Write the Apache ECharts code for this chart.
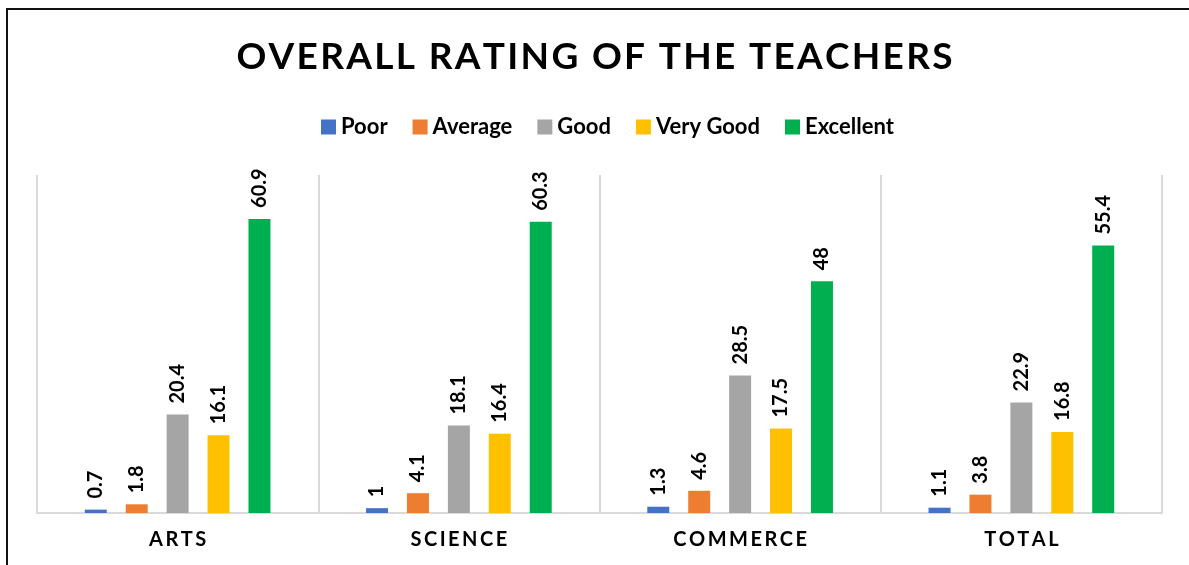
<!DOCTYPE html>
<html>
<head>
<meta charset="utf-8">
<script src="https://cdn.jsdelivr.net/npm/echarts@6/dist/echarts.min.js"></script>
<style>
  html, body { margin: 0; padding: 0; background: #fff; }
  #main { width: 1189px; height: 565px; }
</style>
</head>
<body>
<div id="main"></div>
<script>
// data
const categories = ['ARTS', 'SCIENCE', 'COMMERCE', 'TOTAL'];
const poor = [0.7, 1, 1.3, 1.1];
const average = [1.8, 4.1, 4.6, 3.8];
const good = [20.4, 18.1, 28.5, 22.9];
const veryGood = [16.1, 16.4, 17.5, 16.8];
const excellent = [60.9, 60.3, 48, 55.4];

const seriesNames = ['Poor', 'Average', 'Good', 'Very Good', 'Excellent'];
const seriesData = [poor, average, good, veryGood, excellent];
const colors = ['#4472C4', '#ED7D31', '#A5A5A5', '#FFC000', '#00B050'];

const FONT = 'Lato, "Open Sans", sans-serif';

// spread letters out a bit (echarts has no letterSpacing)
function spaced(s, sep) {
  return s.split('').join(sep);
}

const chart = echarts.init(document.getElementById('main'));

const series = seriesNames.map(function (name, i) {
  return {
    name: name,
    type: 'bar',
    data: seriesData[i],
    barWidth: 22,
    barGap: '86%',
    itemStyle: { color: colors[i] },
    label: {
      show: true,
      position: 'top',
      rotate: 90,
      align: 'left',
      verticalAlign: 'middle',
      distance: 11,
      fontFamily: FONT,
      fontWeight: 'bold',
      fontSize: 20,
      color: '#000'
    }
  };
});

chart.setOption({
  animation: false,
  title: {
    text: spaced('OVERALL RATING OF THE TEACHERS', '\u200A'),
    left: 'center',
    top: 34,
    textStyle: {
      fontFamily: FONT,
      fontWeight: 'bold',
      fontSize: 37,
      color: '#000'
    }
  },
  legend: {
    top: 111,
    left: 316,
    itemWidth: 15,
    itemHeight: 15,
    itemGap: 25,
    icon: 'rect',
    textStyle: {
      fontFamily: FONT,
      fontWeight: 'bold',
      fontSize: 22,
      color: '#000'
    }
  },
  grid: {
    left: 37,
    right: 27,
    top: 175,
    bottom: 52,
    containLabel: false
  },
  xAxis: {
    type: 'category',
    data: categories,
    axisLine: { lineStyle: { color: '#d9d9d9', width: 2 } },
    axisTick: { show: false },
    splitLine: { show: true, lineStyle: { color: '#d9d9d9', width: 2 } },
    axisLabel: {
      margin: 17,
      fontFamily: FONT,
      fontWeight: 'bold',
      fontSize: 20,
      color: '#000',
      formatter: function (v) { return spaced(v, '\u2009'); }
    }
  },
  yAxis: {
    type: 'value',
    min: 0,
    max: 70,
    show: false,
    splitLine: { show: false }
  },
  graphic: [{
    type: 'rect',
    shape: { x: 7, y: 9, width: 1200, height: 600 },
    style: { fill: 'none', stroke: '#111', lineWidth: 2 },
    silent: true
  }],
  series: series
});
</script>
</body>
</html>
